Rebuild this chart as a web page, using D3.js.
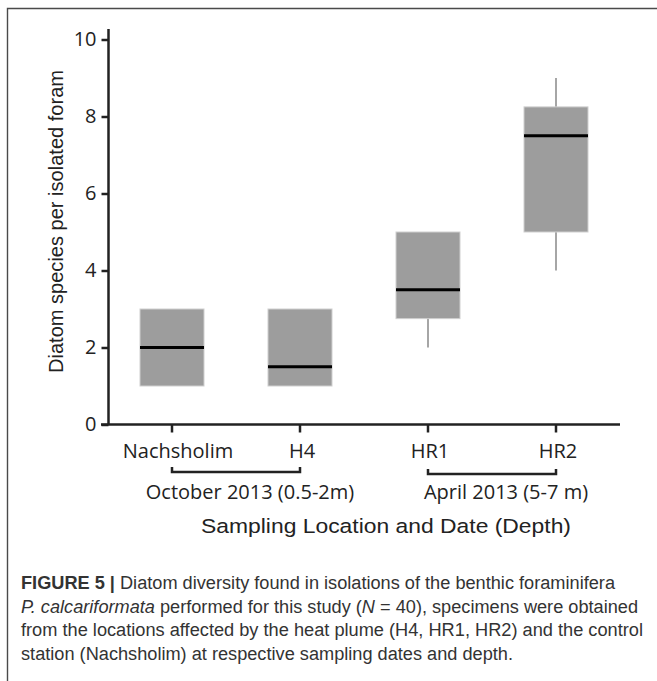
<!DOCTYPE html>
<html>
<head>
<meta charset="utf-8">
<script src="https://cdn.jsdelivr.net/npm/d3@7"></script>
<style>
body { margin: 0; background: #fff; }
</style>
</head>
<body>
<div id="mainDiv"></div>
<script>
// data
var sites = ["Nachsholim", "H4", "HR1", "HR2"];
var whiskLow = [1, 1, 2, 4];
var q1 = [1, 1, 2.75, 5];
var median = [2, 1.5, 3.5, 7.5];
var q3 = [3, 3, 5, 8.25];
var whiskHigh = [3, 3, 5, 9];
var yTicks = [0, 2, 4, 6, 8, 10];
var groups = [
    {label: "October 2013 (0.5-2m)", from: "Nachsholim", to: "H4"},
    {label: "April 2013 (5-7 m)", from: "HR1", to: "HR2"}
];
var captionLines = [
    [{t: "FIGURE 5 | ", b: true}, {t: "Diatom diversity found in isolations of the benthic foraminifera"}],
    [{t: "P. calcariformata", i: true}, {t: " performed for this study ("}, {t: "N", i: true}, {t: " = 40), specimens were obtained"}],
    [{t: "from the locations affected by the heat plume (H4, HR1, HR2) and the control"}],
    [{t: "station (Nachsholim) at respective sampling dates and depth."}]
];
var captionWidths = [594, 617, 622, 492];

var svg = d3.select("#mainDiv").append("svg")
    .attr("width", 657)
    .attr("height", 681);

// frame
svg.append("path")
    .attr("d", "M7.5,681 V8.5 H657")
    .attr("fill", "none")
    .attr("stroke", "#4a4a4a")
    .attr("stroke-width", 1.4);

var boxes = sites.map(function(s, i){
    return {site: s, lo: whiskLow[i], q1: q1[i], med: median[i], q3: q3[i], hi: whiskHigh[i]};
});

var x = d3.scaleBand().domain(sites).range([108, 620]).paddingInner(0.5).paddingOuter(0.25);
var y = d3.scaleLinear().domain([0, 10]).range([424.5, 39.5]);

var tickFont = "'Open Sans', 'Noto Sans', sans-serif";
var axisColor = "#222";

// whiskers
svg.selectAll(".whisk").data(boxes).enter().append("line")
    .attr("class", "whisk")
    .attr("x1", function(d){ return x(d.site) + x.bandwidth()/2; })
    .attr("x2", function(d){ return x(d.site) + x.bandwidth()/2; })
    .attr("y1", function(d){ return y(d.lo); })
    .attr("y2", function(d){ return y(d.hi); })
    .attr("stroke", "#a6a6a6")
    .attr("stroke-width", 2);

// boxes
svg.selectAll(".box").data(boxes).enter().append("rect")
    .attr("class", "box")
    .attr("x", function(d){ return x(d.site); })
    .attr("y", function(d){ return y(d.q3); })
    .attr("width", x.bandwidth())
    .attr("height", function(d){ return y(d.q1) - y(d.q3); })
    .attr("fill", "#9d9d9d")
    .attr("stroke", "#cfcfcf")
    .attr("stroke-width", 1);

// medians
svg.selectAll(".med").data(boxes).enter().append("line")
    .attr("class", "med")
    .attr("x1", function(d){ return x(d.site); })
    .attr("x2", function(d){ return x(d.site) + x.bandwidth(); })
    .attr("y1", function(d){ return y(d.med); })
    .attr("y2", function(d){ return y(d.med); })
    .attr("stroke", "#000")
    .attr("stroke-width", 3);

// y axis
var yAxis = svg.append("g")
    .attr("transform", "translate(108.5,0)")
    .call(d3.axisLeft(y).tickValues(yTicks).tickSize(7).tickPadding(5).tickSizeOuter(0));
yAxis.select(".domain").attr("d", "M0,29V" + y(0)).attr("stroke", axisColor).attr("stroke-width", 2.5);
yAxis.selectAll(".tick line").attr("stroke", axisColor).attr("stroke-width", 2.5);
yAxis.selectAll(".tick text")
    .attr("font-family", tickFont)
    .attr("font-size", "20px")
    .attr("fill", axisColor);

// x axis
var xAxis = svg.append("g")
    .attr("transform", "translate(0," + y(0) + ")")
    .call(d3.axisBottom(x).tickSize(8).tickPadding(11).tickSizeOuter(0));
xAxis.select(".domain").attr("d", "M101,0H620").attr("stroke", axisColor).attr("stroke-width", 2.5);
xAxis.selectAll(".tick line").attr("stroke", axisColor).attr("stroke-width", 2.5);
xAxis.selectAll(".tick text")
    .attr("font-family", tickFont)
    .attr("font-size", "20px")
    .attr("fill", axisColor)
    .attr("dx", function(d, i){ return i == 0 ? 6 : 2; });

// group brackets
var cx = function(s){ return x(s) + x.bandwidth()/2; };
groups.forEach(function(g, i){
    var by = 472 + i*2;
    svg.append("path")
        .attr("d", "M" + cx(g.from) + "," + (by - 5) + "V" + by + "H" + cx(g.to) + "V" + (by - 5))
        .attr("fill", "none")
        .attr("stroke", axisColor)
        .attr("stroke-width", 2.5);
    svg.append("text")
        .attr("x", (cx(g.from) + cx(g.to))/2 + 14)
        .attr("y", 498.5)
        .attr("text-anchor", "middle")
        .attr("font-family", tickFont)
        .attr("font-size", "20px")
        .attr("fill", axisColor)
        .text(g.label);
});

// axis titles
svg.append("text")
    .attr("x", 201)
    .attr("y", 532.5)
    .attr("font-family", "'Liberation Sans', Arial, sans-serif")
    .attr("font-size", "20.5px")
    .attr("textLength", 370)
    .attr("lengthAdjust", "spacingAndGlyphs")
    .attr("fill", axisColor)
    .text("Sampling Location and Date (Depth)");

svg.append("text")
    .attr("transform", "translate(63,373) rotate(-90)")
    .attr("font-family", "'Liberation Sans', Arial, sans-serif")
    .attr("font-size", "19.5px")
    .attr("textLength", 303)
    .attr("lengthAdjust", "spacingAndGlyphs")
    .attr("fill", axisColor)
    .text("Diatom species per isolated foram");

// caption
captionLines.forEach(function(line, i){
    var t = svg.append("text")
        .attr("x", 21)
        .attr("y", 589 + i*23.7)
        .attr("font-family", "'Liberation Sans Narrow', 'Liberation Sans', Arial, sans-serif")
        .attr("font-size", "18px")
        .attr("fill", "#333")
        .attr("textLength", captionWidths[i])
        .attr("lengthAdjust", "spacingAndGlyphs");
    line.forEach(function(p){
        t.append("tspan")
            .attr("font-weight", p.b ? "bold" : null)
            .attr("font-style", p.i ? "italic" : null)
            .text(p.t);
    });
});
</script>
</body>
</html>
